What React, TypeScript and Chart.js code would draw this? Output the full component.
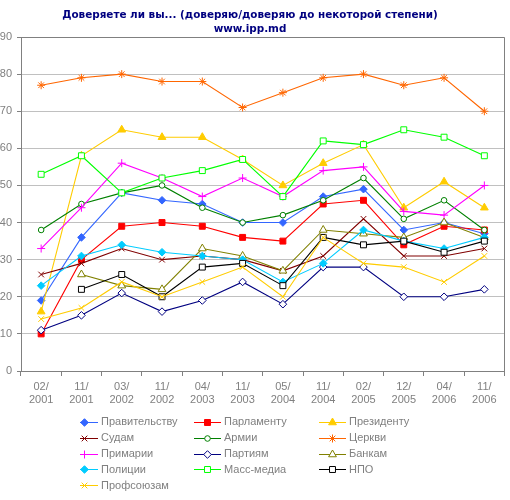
import React, { useEffect, useRef } from 'react';
import { Chart, registerables } from 'chart.js';
import { drawPoint } from 'chart.js/helpers';

Chart.register(...registerables);

const categories = [
  ['02/', '2001'], ['11/', '2001'], ['03/', '2002'], ['11/', '2002'],
  ['04/', '2003'], ['11/', '2003'], ['05/', '2004'], ['11/', '2004'],
  ['02/', '2005'], ['12/', '2005'], ['04/', '2006'], ['11/', '2006'],
];

const pravitelstvu = [19, 36, 48, 46, 45, 40, 40, 47, 49, 38, 40, 37];
const parlamentu = [10, 30, 39, 40, 39, 36, 35, 45, 46, 34, 39, 38];
const prezidentu = [16, 58, 65, 63, 63, 57, 50, 56, 61, 44, 51, 44];
const sudam = [26, 29, 33, 30, 31, 30, 27, 31, 41, 31, 31, 33];
const armii = [38, 45, 48, 50, 44, 40, 42, 46, 52, 41, 46, 38];
const tserkvi = [77, 79, 80, 78, 78, 71, 75, 79, 80, 77, 79, 70];
const primarii = [33, 44, 56, 52, 47, 52, 47, 54, 55, 43, 42, 50];
const partiyam = [11, 15, 21, 16, 19, 24, 18, 28, 28, 20, 20, 22];
const bankam = [null, 26, 23, 22, 33, 31, 27, 38, 37, 36, 40, 36];
const politsii = [23, 31, 34, 32, 31, 30, 24, 29, 38, 35, 33, 36];
const massMedia = [53, 58, 48, 52, 54, 57, 47, 62, 61, 65, 63, 58];
const npo = [null, 22, 26, 20, 28, 29, 23, 36, 34, 35, 32, 35];
const profsoyuzam = [14, 17, 24, 20, 24, 28, 20, 36, 29, 28, 24, 31];

const titleLines = ['Доверяете ли вы... (доверяю/доверяю до некоторой степени)', 'www.ipp.md'];
const yTicks = [0, 10, 20, 30, 40, 50, 60, 70, 80, 90];

const seriesDefs = [
  { label: 'Правительству', data: pravitelstvu, color: '#3366FF', style: 'rectRot', fill: '#3366FF', r: 3.8 },
  { label: 'Парламенту', data: parlamentu, color: '#FF0000', style: 'rect', fill: '#FF0000', r: 4.2 },
  { label: 'Президенту', data: prezidentu, color: '#FFCC00', style: 'triangle', fill: '#FFCC00', r: 4.5 },
  { label: 'Судам', data: sudam, color: '#800000', style: 'crossRot', fill: '#800000', r: 4 },
  { label: 'Армии', data: armii, color: '#008000', style: 'circle', fill: '#FFFFFF', r: 2.8 },
  { label: 'Церкви', data: tserkvi, color: '#FF6600', style: 'star', fill: '#FF6600', r: 4 },
  { label: 'Примарии', data: primarii, color: '#FF00FF', style: 'cross', fill: '#FF00FF', r: 4 },
  { label: 'Партиям', data: partiyam, color: '#000080', style: 'rectRot', fill: '#FFFFFF', r: 3.8 },
  { label: 'Банкам', data: bankam, color: '#808000', style: 'triangle', fill: '#FFFFFF', r: 4.5 },
  { label: 'Полиции', data: politsii, color: '#00CCFF', style: 'rectRot', fill: '#00CCFF', r: 3.8 },
  { label: 'Масс-медиа', data: massMedia, color: '#00FF00', style: 'rect', fill: '#FFFFFF', r: 4.2 },
  { label: 'НПО', data: npo, color: '#000000', style: 'rect', fill: '#FFFFFF', r: 4.2 },
  { label: 'Профсоюзам', data: profsoyuzam, color: '#FFCC00', style: 'crossRot', fill: '#FFCC00', r: 4 },
];

const GREY = '#808080';
const FONT = "'Liberation Sans', Arial, sans-serif";

const decorPlugin = {
  id: 'decor',
  afterDraw(chart: any) {
    const ctx = chart.ctx as CanvasRenderingContext2D;
    const area = chart.chartArea;
    ctx.save();
    // plot-area border (top and right)
    ctx.strokeStyle = GREY;
    ctx.lineWidth = 1;
    ctx.beginPath();
    ctx.moveTo(Math.round(area.left) + 0.5, Math.round(area.top) + 0.5);
    ctx.lineTo(Math.round(area.right) - 0.5, Math.round(area.top) + 0.5);
    ctx.lineTo(Math.round(area.right) - 0.5, Math.round(area.bottom) + 0.5);
    ctx.stroke();

    // title
    ctx.fillStyle = '#000080';
    ctx.font = "bold 10.4px 'DejaVu Sans', sans-serif";
    ctx.textAlign = 'center';
    ctx.textBaseline = 'middle';
    ctx.fillText(titleLines[0], 250, 15.5);
    ctx.fillText(titleLines[1], 250, 29);

    // legend
    const textX = [101, 224, 349];
    ctx.beginPath();
    ctx.rect(80, 405, 430, 95);
    ctx.clip();
    ctx.font = `11px ${FONT}`;
    ctx.textAlign = 'left';
    chart.data.datasets.forEach((ds: any, i: number) => {
      const col = i % 3;
      const row = Math.floor(i / 3);
      const tx = textX[col];
      const cy = 421.7 + row * 15.9;
      const cx = tx - 16.5;
      ctx.strokeStyle = ds.borderColor;
      ctx.lineWidth = 1;
      ctx.beginPath();
      ctx.moveTo(cx - 13.5, Math.round(cy) + 0.5);
      ctx.lineTo(cx + 13.5, Math.round(cy) + 0.5);
      ctx.stroke();
      ctx.fillStyle = ds.pointBackgroundColor;
      ctx.strokeStyle = ds.pointBorderColor;
      drawPoint(ctx, { pointStyle: ds.pointStyle, rotation: 0, radius: ds.pointRadius, borderWidth: 1 } as any, cx, Math.round(cy) + 0.5);
      ctx.fillStyle = GREY;
      ctx.fillText(ds.label, tx, cy + 0.5);
    });
    ctx.restore();
  },
};

export default function App() {
  const ref = useRef<HTMLCanvasElement | null>(null);
  useEffect(() => {
    if (!ref.current) return;
    const n = seriesDefs.length;
    const chart = new Chart(ref.current, {
      type: 'line',
      data: {
        labels: categories as any,
        datasets: seriesDefs.map((s, i) => ({
          label: s.label,
          data: s.data as any,
          borderColor: s.color,
          backgroundColor: s.fill,
          borderWidth: 1.1,
          pointStyle: s.style as any,
          pointRadius: s.r,
          pointHoverRadius: s.r,
          pointBackgroundColor: s.fill,
          pointBorderColor: s.color,
          pointBorderWidth: 1,
          tension: 0,
          spanGaps: false,
          order: n - i,
        })),
      },
      options: {
        responsive: false,
        animation: false,
        events: [],
        layout: { padding: { top: 37, right: 2, bottom: 89, left: 0 } },
        plugins: {
          legend: { display: false },
          title: { display: false },
          tooltip: { enabled: false },
        },
        scales: {
          x: {
            type: 'category',
            offset: true,
            grid: {
              display: true,
              drawOnChartArea: false,
              drawTicks: true,
              tickLength: 5,
              offset: true,
              color: GREY,
            },
            border: { display: true, color: GREY, width: 1 },
            ticks: {
              color: GREY,
              font: { family: FONT, size: 11, lineHeight: 1.23 },
              padding: 4,
              maxRotation: 0,
              minRotation: 0,
              autoSkip: false,
            },
            afterFit: (scale: any) => { scale.height = 40; },
          },
          y: {
            min: 0,
            max: 90,
            afterBuildTicks: (scale: any) => { scale.ticks = yTicks.map((v) => ({ value: v })); },
            grid: {
              color: '#C0C0C0',
              tickColor: GREY,
              tickLength: 4,
              lineWidth: 1,
            },
            border: { display: true, color: GREY, width: 1 },
            ticks: {
              color: GREY,
              font: { family: FONT, size: 11 },
              padding: 5,
            },
            afterFit: (scale: any) => { scale.width = 21; },
          },
        },
      },
      plugins: [decorPlugin],
    });
    return () => chart.destroy();
  }, []);
  return (
    <div style={{ position: 'absolute', left: 0, top: 0, width: 510, height: 500, background: '#fff' }}>
      <canvas ref={ref} width={510} height={500} style={{ width: 510, height: 500 }} />
    </div>
  );
}
